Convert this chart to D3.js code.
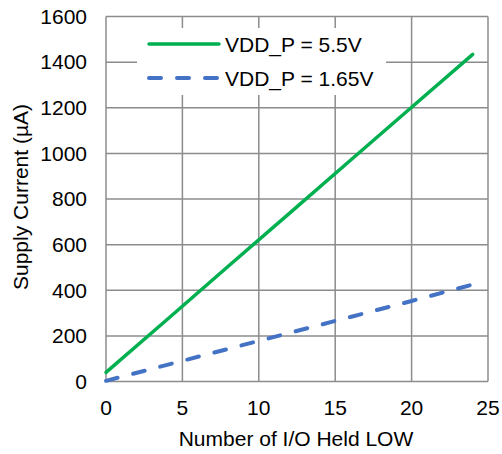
<!DOCTYPE html>
<html><head><meta charset="utf-8">
<script src="https://cdn.jsdelivr.net/npm/d3@7/dist/d3.min.js"></script>
<style>body{margin:0;background:#fff}svg{display:block}text{font-family:"Liberation Sans",Arial,sans-serif;fill:#000}</style>
</head><body>
<svg id="c" width="502" height="454"></svg>
<script>
const xTicks = [0, 5, 10, 15, 20, 25];
const yTicks = [0, 200, 400, 600, 800, 1000, 1200, 1400, 1600];
const ioCount = [0, 4, 8, 12, 16, 20, 24];
const vdd55 = [40, 272, 505, 737, 970, 1202, 1434];
const vdd165 = [3, 73, 143, 213, 283, 353, 425];
const seriesNames = ["VDD_P = 5.5V", "VDD_P = 1.65V"];

const svg = d3.select("#c");
const L = 106, R = 488, T = 16.5, B = 381.5;
const x = d3.scaleLinear().domain([0, 25]).range([L, R]);
const y = d3.scaleLinear().domain([0, 1600]).range([B, T]);
const grid = "#8c8c8c";
const FS = 21;

const g = svg.append("g");
g.selectAll(".vx").data(xTicks).join("line")
  .attr("x1", d => x(d)).attr("x2", d => x(d)).attr("y1", T).attr("y2", B)
  .attr("stroke", grid).attr("stroke-width", 1.5);
g.selectAll(".hy").data(yTicks).join("line")
  .attr("x1", L).attr("x2", R).attr("y1", d => y(d)).attr("y2", d => y(d))
  .attr("stroke", grid).attr("stroke-width", 1.5);

// legend background
svg.append("rect").attr("x", 137).attr("y", 28).attr("width", 249).attr("height", 67).attr("fill", "#fff");

const line = d3.line().x((d, i) => x(ioCount[i])).y(d => y(d));
svg.append("path").datum(vdd55).attr("d", line).attr("fill", "none")
  .attr("stroke", "#00b050").attr("stroke-width", 3.5).attr("stroke-linecap", "round");
svg.append("path").datum(vdd165).attr("d", line).attr("fill", "none")
  .attr("stroke", "#4472c4").attr("stroke-width", 4).attr("stroke-linecap", "round")
  .attr("stroke-dasharray", "12,16");

// tick labels
svg.selectAll(".yl").data(yTicks).join("text")
  .attr("x", 87).attr("y", d => y(d)).attr("dy", "0.35em")
  .attr("text-anchor", "end").attr("font-size", FS).text(d => d);
svg.selectAll(".xl").data(xTicks).join("text")
  .attr("x", d => x(d)).attr("y", 415)
  .attr("text-anchor", "middle").attr("font-size", FS).text(d => d);

svg.append("text").attr("x", 296).attr("y", 446).attr("text-anchor", "middle")
  .attr("font-size", FS).text("Number of I/O Held LOW");
svg.append("text").attr("transform", "translate(28,197) rotate(-90)").attr("text-anchor", "middle")
  .attr("font-size", FS).text("Supply Current (µA)");

// legend
const lg = [{c: "#00b050", dash: null, w: 3.5, y: 44}, {c: "#4472c4", dash: "12,16", w: 4, y: 78}];
lg.forEach((d, i) => {
  svg.append("line").attr("x1", 149).attr("x2", 219).attr("y1", d.y).attr("y2", d.y)
    .attr("stroke", d.c).attr("stroke-width", d.w).attr("stroke-linecap", "round")
    .attr("stroke-dasharray", d.dash);
  svg.append("text").attr("x", 225).attr("y", d.y + 1).attr("dy", "0.35em").attr("font-size", FS).text(seriesNames[i]);
});
</script>
</body></html>
